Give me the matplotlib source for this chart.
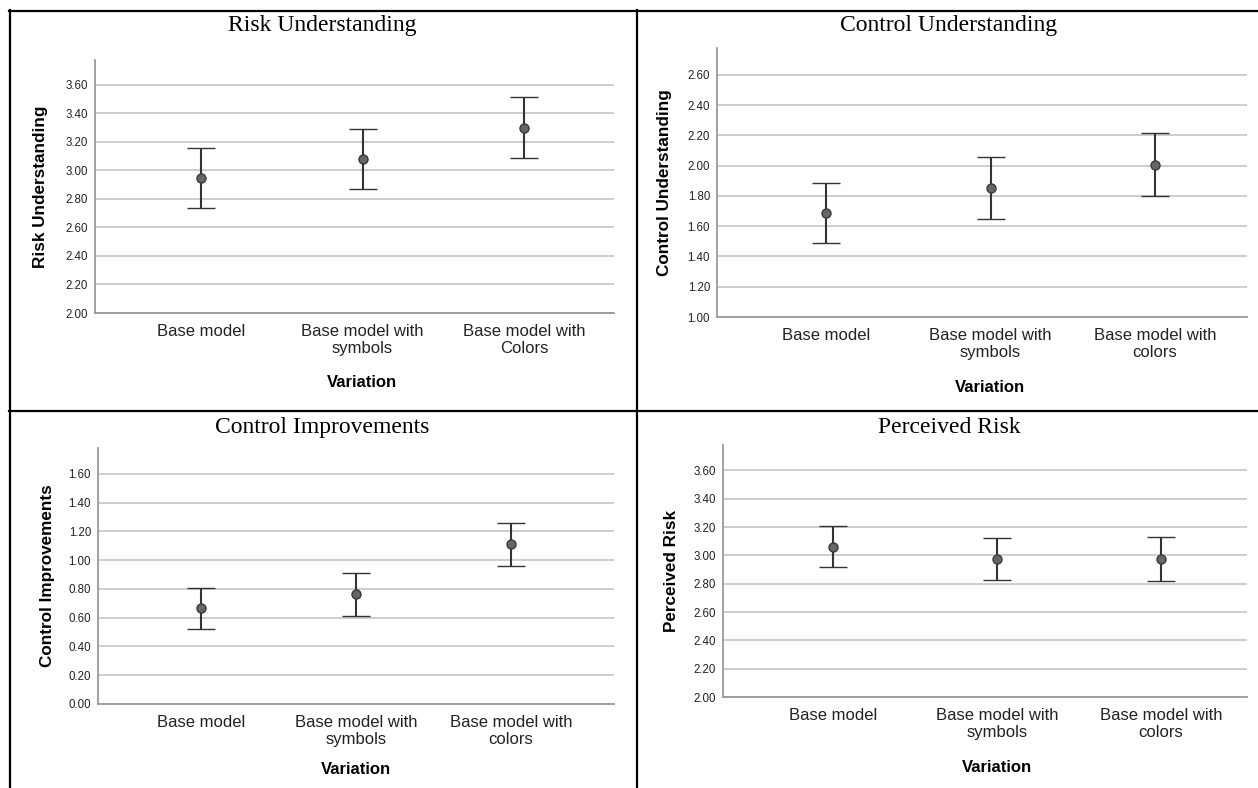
import matplotlib
matplotlib.use("Agg")
import matplotlib.pyplot as plt
from matplotlib.lines import Line2D
import numpy as np

W, H = 1258, 788
DPI = 100

# ---------------- data ----------------
cats_risk = ["Base model", "Base model with\nsymbols", "Base model with\nColors"]
cats_other = ["Base model", "Base model with\nsymbols", "Base model with\ncolors"]

risk_mean = [2.945, 3.079, 3.300]
risk_lower = [2.736, 2.868, 3.086]
risk_upper = [3.158, 3.293, 3.515]

cu_mean = [1.690, 1.851, 2.007]
cu_lower = [1.491, 1.648, 1.800]
cu_upper = [1.888, 2.058, 2.213]

ci_mean = [0.665, 0.762, 1.112]
ci_lower = [0.522, 0.612, 0.962]
ci_upper = [0.810, 0.910, 1.260]

pr_mean = [3.063, 2.973, 2.977]
pr_lower = [2.916, 2.825, 2.822]
pr_upper = [3.210, 3.121, 3.132]

SANS = ["Liberation Sans", "DejaVu Sans"]
SERIF = ["Liberation Serif", "DejaVu Serif"]

fig = plt.figure(figsize=(W / DPI, H / DPI), dpi=DPI)
fig.patch.set_facecolor("white")


def fx(px):
    return px / W


def fy(py):
    return 1 - py / H


panels = [
    dict(title="Risk Understanding", ylabel="Risk Understanding", cats=cats_risk,
         mean=risk_mean, lower=risk_lower, upper=risk_upper,
         box=(95, 60, 614, 313), ylim=(2.0, 3.775), ticks=(2.0, 3.6),
         catpx=(201, 524), tpos=(322, 25), ylx=41, xlpos=(362, 382)),
    dict(title="Control Understanding", ylabel="Control Understanding", cats=cats_other,
         mean=cu_mean, lower=cu_lower, upper=cu_upper,
         box=(717, 48, 1247, 317), ylim=(1.0, 2.778), ticks=(1.0, 2.6),
         catpx=(826, 1155), tpos=(949, 25), ylx=665, xlpos=(990, 387)),
    dict(title="Control Improvements", ylabel="Control Improvements", cats=cats_other,
         mean=ci_mean, lower=ci_lower, upper=ci_upper,
         box=(98, 448, 614, 704), ylim=(0.0, 1.78), ticks=(0.0, 1.6),
         catpx=(201, 511), tpos=(322, 427), ylx=48, xlpos=(356, 770)),
    dict(title="Perceived Risk", ylabel="Perceived Risk", cats=cats_other,
         mean=pr_mean, lower=pr_lower, upper=pr_upper,
         box=(723, 445, 1247, 697), ylim=(2.0, 3.78), ticks=(2.0, 3.6),
         catpx=(833, 1161), tpos=(949, 427), ylx=671, xlpos=(997, 768)),
]

for p in panels:
    l, t, r, b = p["box"]
    ax = fig.add_axes([fx(l), fy(b), fx(r) - fx(l), (b - t) / H])
    mean = np.array(p["mean"])
    lower = np.array(p["lower"])
    upper = np.array(p["upper"])
    x = np.arange(len(p["cats"]))
    ax.errorbar(x, mean, yerr=[mean - lower, upper - mean], fmt="o",
                color="#333333", ecolor="#333333", elinewidth=1.5,
                capsize=10, capthick=1.5, markersize=6.5,
                markerfacecolor="#666666", markeredgecolor="#3a3a3a",
                markeredgewidth=1.0, zorder=3)
    c0, c2 = p["catpx"]
    s = (c2 - c0) / 2.0
    ax.set_xlim((l - c0) / s, (r - c0) / s)
    ax.set_ylim(*p["ylim"])
    yt = np.round(np.arange(p["ticks"][0], p["ticks"][1] + 0.001, 0.2), 2)
    ax.set_yticks(yt)
    ax.set_yticklabels([f"{v:.2f}" for v in yt], family=SANS, fontsize=8.3)
    ax.set_xticks(x)
    ax.set_xticklabels(p["cats"], family=SANS, fontsize=12, linespacing=1.12,
                       color="#222222")
    ax.tick_params(axis="both", length=0)
    ax.tick_params(axis="x", pad=8)
    ax.tick_params(axis="y", pad=5, colors="#222222")
    ax.yaxis.grid(True, color="#c0c0c0", linewidth=1.1)
    ax.set_axisbelow(True)
    for sp in ("top", "right"):
        ax.spines[sp].set_visible(False)
    for sp in ("left", "bottom"):
        ax.spines[sp].set_color("#9a9a9a")
        ax.spines[sp].set_linewidth(1.3)
    ax.set_facecolor("white")

    tx, ty = p["tpos"]
    fig.text(fx(tx), fy(ty), p["title"], family=SERIF, fontsize=17,
             ha="center", va="center", color="black")
    fig.text(fx(p["ylx"]), fy((t + b) / 2), p["ylabel"], family=SANS,
             fontsize=12.3, fontweight="bold", rotation=90,
             ha="center", va="center", color="black")
    xlx, xly = p["xlpos"]
    fig.text(fx(xlx), fy(xly), "Variation", family=SANS, fontsize=12,
             fontweight="bold", ha="center", va="center", color="black")

# table borders
lw = 1.6
fig.add_artist(Line2D([fx(9), fx(1258)], [fy(10.5), fy(10.5)], color="black", linewidth=lw))
fig.add_artist(Line2D([fx(9), fx(1258)], [fy(410.5), fy(410.5)], color="black", linewidth=lw))
fig.add_artist(Line2D([fx(9.5), fx(9.5)], [fy(10), fy(788)], color="black", linewidth=lw))
fig.add_artist(Line2D([fx(637), fx(637)], [fy(10), fy(788)], color="black", linewidth=lw))

fig.savefig("out.png", dpi=DPI, facecolor="white")
